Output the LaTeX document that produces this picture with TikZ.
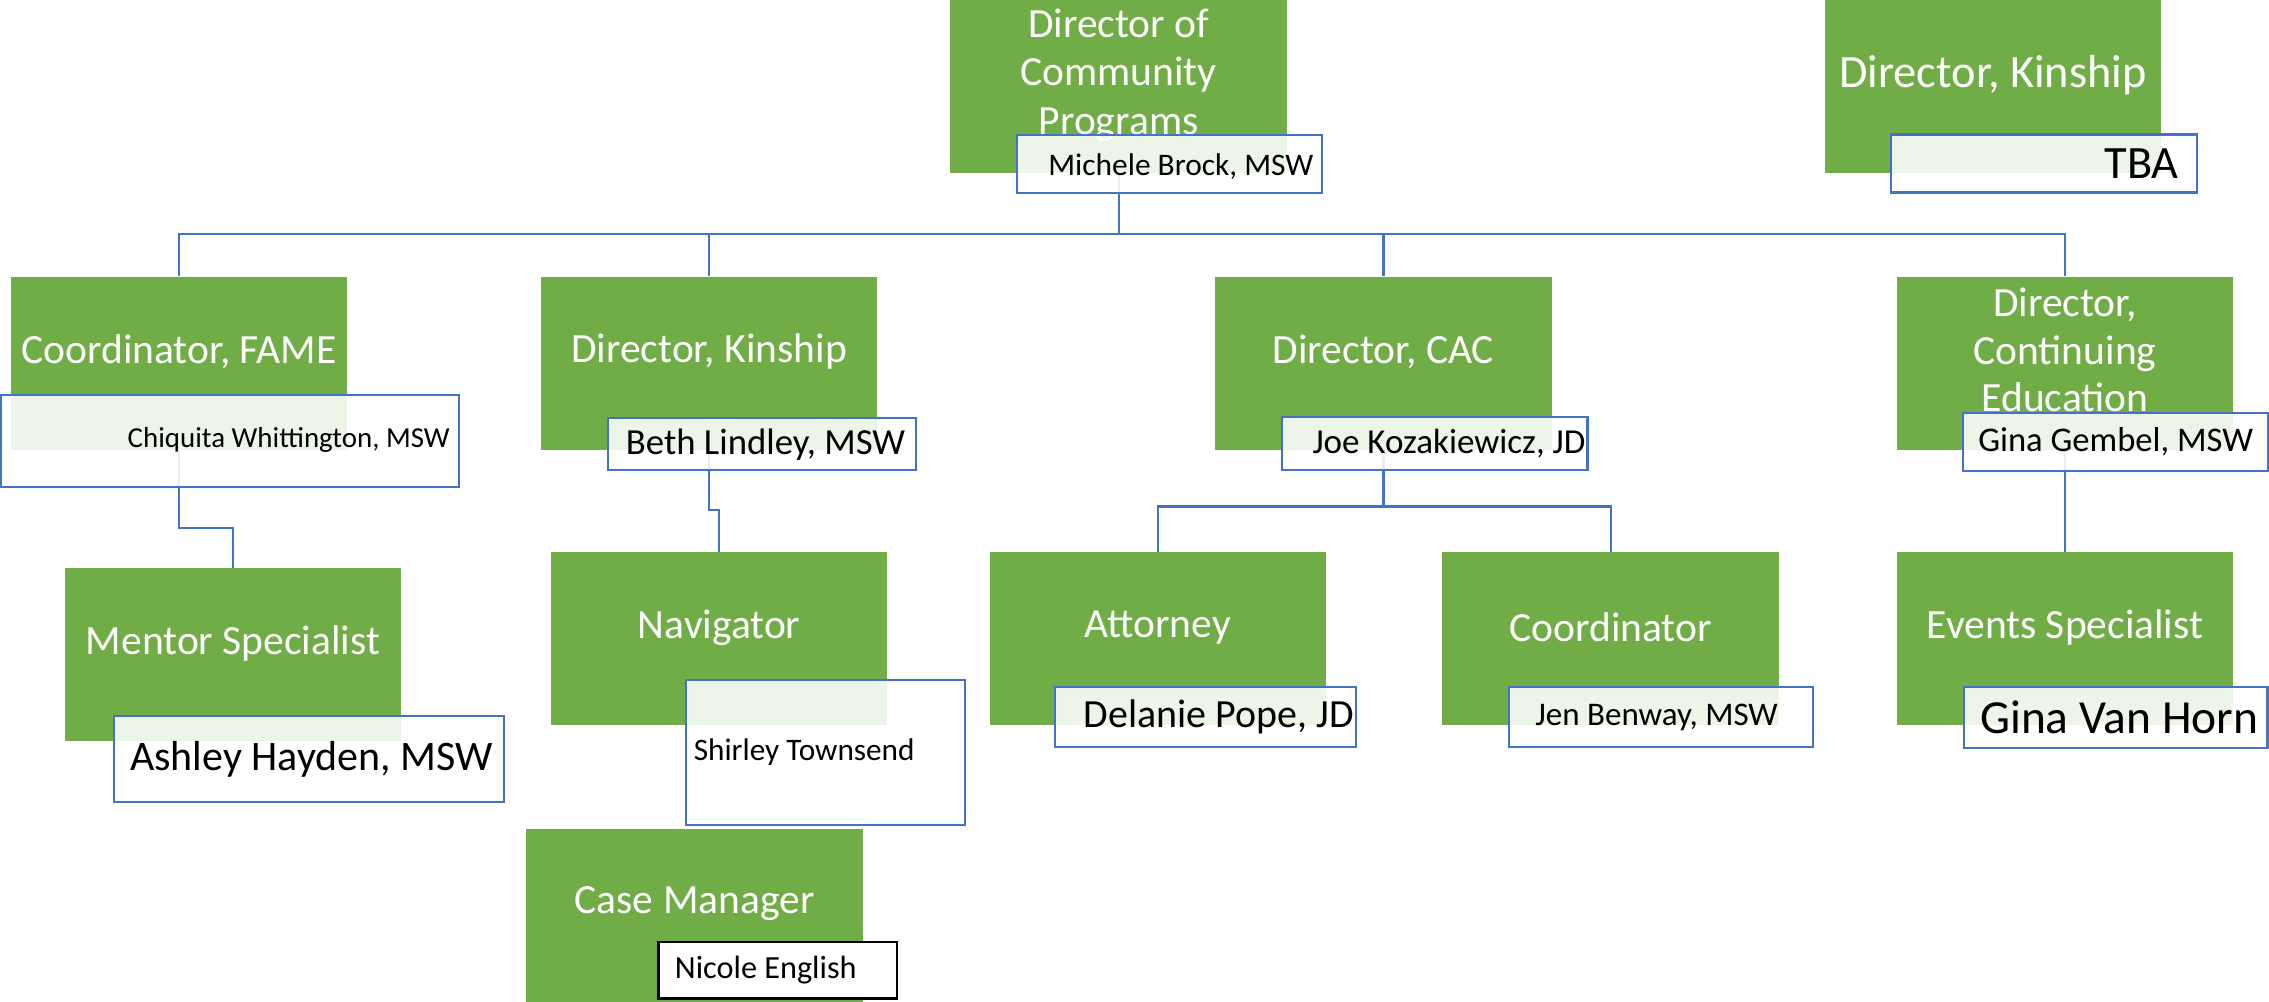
\documentclass[tikz,border=0pt]{standalone}
\usepackage{fontspec}
\setmainfont{Carlito}
\definecolor{gfill}{HTML}{70AD47}
\definecolor{lblue}{HTML}{4472C4}
\newcommand{\myfs}[1]{\fontsize{#1}{#1}\selectfont}
\begin{document}
\begin{tikzpicture}[x=1pt,y=1pt,
  gbox/.style={fill=gfill, draw=none, minimum width=232.4pt, minimum height=119.5pt, inner sep=0pt},
  gtxt/.style={text=white, align=center, inner sep=0pt, font=\fontsize{28.7}{33.5}\selectfont},
  nbox/.style={draw=lblue, line width=1.5pt, fill=white, fill opacity=0.88, inner sep=0pt},
  ntxt/.style={text=black, inner sep=0pt},
  conn/.style={draw=lblue, line width=1.5pt}]
\useasboundingbox (0,0) rectangle (1568,-692);
% green boxes
\node[gbox] (dcp) at (773,-59.8) {};
\node[gbox] (dk2) at (1377.2,-59.8) {};
\node[gbox] (fame) at (123.7,-250.9) {};
\node[gbox] (dk) at (490,-250.9) {};
\node[gbox] (cac) at (956,-250.9) {};
\node[gbox] (ce) at (1427,-250.9) {};
\node[gbox] (ment) at (161,-452.5) {};
\node[gbox] (nav) at (497,-441.5) {};
\node[gbox] (att) at (800,-441.5) {};
\node[gbox] (crd) at (1113,-441.5) {};
\node[gbox] (evt) at (1427,-441.5) {};
\node[gbox] (cm) at (480,-632.5) {};
% titles
\node[gtxt] (dcpT) at ([yshift=8pt]dcp.center) {Director of\\Community\\Programs};
\node[gtxt, font=\myfs{32}] (dk2T) at ([yshift=8pt]dk2.center) {Director, Kinship};
\node[gtxt] (fameT) at ([yshift=8pt]fame.center) {Coordinator, FAME};
\node[gtxt] (dkT) at ([yshift=8pt]dk.center) {Director, Kinship};
\node[gtxt] (cacT) at ([yshift=8pt]cac.center) {Director, CAC};
\node[gtxt, font=\fontsize{28.7}{33}\selectfont] (ceT) at ([yshift=9pt]ce.center) {Director,\\Continuing\\Education};
\node[gtxt] (mentT) at ([yshift=8pt]ment.center) {Mentor Specialist};
\node[gtxt] (navT) at ([yshift=8pt]nav.center) {Navigator};
\node[gtxt] (attT) at ([yshift=8pt]att.center) {Attorney};
\node[gtxt] (crdT) at ([yshift=8pt]crd.center) {Coordinator};
\node[gtxt] (evtT) at ([yshift=8pt]evt.center) {Events Specialist};
\node[gtxt] (cmT) at ([yshift=8pt]cm.center) {Case Manager};
% connectors
\coordinate (bus) at (0,-161.5);
\draw[conn] (dcp.south) -- (dcp.south |- bus);
\draw[conn] (fame.north) -- (fame.north |- bus) -- (ce.north |- bus) -- (ce.north);
\draw[conn] (dk.north) -- (dk.north |- bus);
\draw[conn] (cac.north) -- (cac.north |- bus);
\draw[conn] (fame.south) -- ++(0,-54) -| (ment.north);
\draw[conn] (dk.south) -- ++(0,-41.7) -| (nav.north);
\coordinate (cbus) at (0,-350);
\draw[conn] (cac.south) -- (cac.south |- cbus);
\draw[conn] (att.north) -- (att.north |- cbus) -- (crd.north |- cbus) -- (crd.north);
\draw[conn] (ce.south) -- (evt.north);
% name boxes
\node[nbox, minimum width=210.6pt, minimum height=40.1pt] (mich) at (808.3,-113.35) {};
\node[nbox, minimum width=211pt, minimum height=40pt] (tba) at (1412.5,-113) {};
\node[nbox, minimum width=316.5pt, minimum height=63.6pt] (chiq) at (159,-304.8) {};
\node[nbox, minimum width=213pt, minimum height=36pt] (beth) at (526.5,-307) {};
\node[nbox, minimum width=211pt, minimum height=37pt] (joe) at (991.5,-306.5) {};
\node[nbox, minimum width=210.8pt, minimum height=40pt] (gemb) at (1462,-305.5) {};
\node[nbox, minimum width=269pt, minimum height=59pt] (ash) at (213.5,-524.5) {};
\node[nbox, minimum width=193pt, minimum height=100pt] (shir) at (570.5,-520) {};
\node[nbox, draw=black, fill opacity=1, minimum width=165pt, minimum height=39pt] (nic) at (537.5,-670.5) {};
\node[nbox, minimum width=208pt, minimum height=41pt] (del) at (833,-495.5) {};
\node[nbox, minimum width=210pt, minimum height=41pt] (jen) at (1148,-495.5) {};
\node[nbox, minimum width=210pt, minimum height=42pt] (gvh) at (1462,-496) {};
% names
\node[ntxt, anchor=east, font=\myfs{21.7}] (michT) at ([xshift=-6.6pt,yshift=-1.7pt]mich.east) {Michele Brock, MSW};
\node[ntxt, anchor=east, font=\myfs{32}] (tbaT) at ([xshift=-13pt]tba.east) {TBA};
\node[ntxt, anchor=east, font=\myfs{20}] (chiqT) at ([xshift=-7pt,yshift=1pt]chiq.east) {Chiquita Whittington, MSW};
\node[ntxt, anchor=east, font=\myfs{25.4}] (bethT) at ([xshift=-8pt]beth.east) {Beth Lindley, MSW};
\node[ntxt, anchor=east, font=\myfs{24.2}] (joeT) at ([xshift=-2pt]joe.east) {Joe Kozakiewicz, JD};
\node[ntxt, anchor=east, font=\myfs{23.9}] (gembT) at ([xshift=-11pt]gemb.east) {Gina Gembel, MSW};
\node[ntxt, anchor=east, font=\myfs{29}] (ashT) at ([xshift=-8pt]ash.east) {Ashley Hayden, MSW};
\node[ntxt, anchor=west, font=\myfs{21.6}] (shirT) at ([xshift=6pt]shir.west) {Shirley Townsend};
\node[ntxt, anchor=west, font=\myfs{22.3}] (nicT) at ([xshift=12pt]nic.west) {Nicole English};
\node[ntxt, anchor=east, font=\myfs{27.6}] (delT) at ([xshift=-2pt]del.east) {Delanie Pope, JD};
\node[ntxt, anchor=east, font=\myfs{22.8}] (jenT) at ([xshift=-25pt]jen.east) {Jen Benway, MSW};
\node[ntxt, anchor=east, font=\myfs{32.8}] (gvhT) at ([xshift=-7pt]gvh.east) {Gina Van Horn};
\end{tikzpicture}
\end{document}
